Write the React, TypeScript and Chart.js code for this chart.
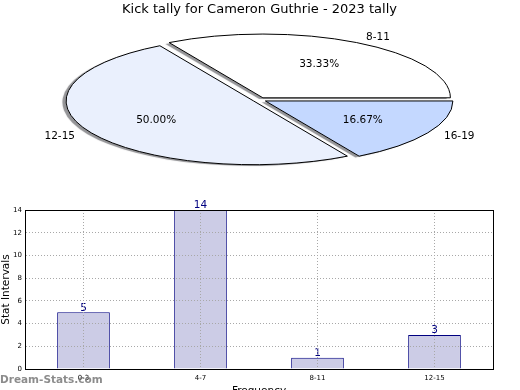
import React, { useEffect, useRef } from 'react';
import { Chart, registerables } from 'chart.js';

Chart.register(...registerables);

// ---------- data ----------
const pieTitle = 'Kick tally for Cameron Guthrie - 2023 tally';
const pieLabels = ['16-19', '12-15', '8-11'];
const pieValues = [1, 3, 2];
const pieColors = ['#c4d8ff', '#eaf0fd', '#ffffff'];
const pieExplode = [6.8, 6.8, 6.8];

const barLabels = ['0-3', '4-7', '8-11', '12-15'];
const barValues = [5, 14, 1, 3];
const yMin = 0;
const yMax = 14;
const yStep = 2;
const xTitle = 'Frequency';
const yTitle = 'Stat Intervals';
const watermark = 'Dream-Stats.com';

const FONT = "'DejaVu Sans', sans-serif";
const SQUASH = 0.34;
const GRID_COLOR = '#a8a8a8';

function drawArcs(chart: any, shadowPass: boolean) {
  const ctx = chart.ctx;
  const meta = chart.getDatasetMeta(0);
  const el = meta.data[0];
  if (!el) return;
  ctx.save();
  const base = ctx.getTransform();
  ctx.translate(el.x, el.y);
  ctx.scale(1, SQUASH);
  ctx.translate(-el.x, -el.y);
  if (shadowPass) {
    ctx.shadowColor = 'rgba(60,60,65,0.55)';
    ctx.shadowOffsetX = -3.75;
    ctx.shadowOffsetY = 1.3;
    ctx.shadowBlur = 0.8;
    (ctx as any).stroke = function () {};
  } else {
    const orig = CanvasRenderingContext2D.prototype.stroke;
    (ctx as any).stroke = function (...a: any[]) {
      this.save();
      this.setTransform(base);
      orig.apply(this, a as any);
      this.restore();
    };
  }
  meta.data.forEach((arc: any, i: number) => {
    const mid = (arc.startAngle + arc.endAngle) / 2;
    const e = pieExplode[i] || 0;
    ctx.save();
    ctx.translate(Math.cos(mid) * e, Math.sin(mid) * e);
    arc.draw(ctx, chart.chartArea);
    ctx.restore();
  });
  delete (ctx as any).stroke;
  ctx.restore();
}

const ellipsePlugin = {
  id: 'ellipsePie',
  beforeDatasetDraw(chart: any) {
    drawArcs(chart, true);
    drawArcs(chart, false);
    return false;
  },
  afterDraw(chart: any) {
    const ctx = chart.ctx;
    const meta = chart.getDatasetMeta(0);
    const vals = chart.data.datasets[0].data as number[];
    const total = vals.reduce((a, b) => a + b, 0);
    ctx.save();
    ctx.fillStyle = '#000';
    ctx.font = `10.5px ${FONT}`;
    ctx.textBaseline = 'middle';
    meta.data.forEach((arc: any, i: number) => {
      const mid = (arc.startAngle + arc.endAngle) / 2;
      const off = pieExplode[i] || 0;
      const c = Math.cos(mid);
      const s = Math.sin(mid);
      const R = arc.outerRadius;
      const lx = arc.x + c * (off + R * 1.1);
      const ly = arc.y + SQUASH * s * (off + R * 1.1);
      ctx.textAlign = c > 0 ? 'left' : 'right';
      ctx.fillText(chart.data.labels[i], lx, ly);
      const px = arc.x + c * (off + R * 0.6);
      const py = arc.y + SQUASH * s * (off + R * 0.6);
      ctx.textAlign = 'center';
      ctx.fillText(((vals[i] / total) * 100).toFixed(2) + '%', px, py);
    });
    ctx.restore();
  },
};

const barPlugin = {
  id: 'barExtras',
  afterDatasetsDraw(chart: any) {
    const ctx = chart.ctx;
    const meta = chart.getDatasetMeta(0);
    const vals = chart.data.datasets[0].data as number[];
    ctx.save();
    ctx.fillStyle = '#000080';
    ctx.font = `10.5px ${FONT}`;
    ctx.textAlign = 'center';
    ctx.textBaseline = 'bottom';
    meta.data.forEach((bar: any, i: number) => {
      ctx.fillText(String(vals[i]), bar.x, bar.y + 1);
    });
    ctx.restore();
  },
  afterDraw(chart: any) {
    const ctx = chart.ctx;
    const a = chart.chartArea;
    ctx.save();
    ctx.strokeStyle = '#000';
    ctx.lineWidth = 1;
    ctx.strokeRect(Math.round(a.left) + 0.5, Math.round(a.top) + 0.5, Math.round(a.right - a.left), Math.round(a.bottom - a.top));
    ctx.fillStyle = 'rgba(120,120,120,0.85)';
    ctx.font = `bold 10.5px ${FONT}`;
    ctx.textAlign = 'left';
    ctx.textBaseline = 'middle';
    ctx.fillText(watermark, 0, chart.height - 20);
    ctx.restore();
  },
};

export default function App() {
  const pieRef = useRef<HTMLCanvasElement>(null);
  const barRef = useRef<HTMLCanvasElement>(null);

  useEffect(() => {
    Chart.defaults.font.family = FONT;
    const pie = new Chart(pieRef.current as HTMLCanvasElement, {
      type: 'pie',
      data: {
        labels: pieLabels,
        datasets: [
          {
            data: pieValues,
            backgroundColor: pieColors,
            borderColor: '#000',
            borderWidth: 1,
          } as any,
        ],
      },
      options: {
        responsive: false,
        animation: false,
        events: [],
        rotation: 90,
        radius: 187.5,
        layout: { padding: { bottom: 23, right: 1 } },
        plugins: {
          legend: { display: false },
          tooltip: { enabled: false },
          title: {
            display: true,
            text: pieTitle,
            color: '#000',
            font: { family: FONT, size: 13, weight: 'normal' },
            padding: { top: 2, bottom: 10 },
          },
        },
      } as any,
      plugins: [ellipsePlugin],
    });

    const bar = new Chart(barRef.current as HTMLCanvasElement, {
      type: 'bar',
      data: {
        labels: barLabels,
        datasets: [
          {
            data: barValues,
            backgroundColor: '#ccccE6',
            borderColor: '#000080',
            borderWidth: 1,
            barPercentage: 0.45,
            categoryPercentage: 1,
          },
        ],
      },
      options: {
        responsive: false,
        animation: false,
        events: [],
        layout: { padding: { top: 15, right: 27, left: 0, bottom: 0 } },
        plugins: { legend: { display: false }, tooltip: { enabled: false } },
        scales: {
          x: {
            type: 'category',
            offset: true,
            grid: { display: true, drawOnChartArea: true, color: GRID_COLOR, drawTicks: false, offset: false, z: 1 },
            border: { display: true, color: '#000', width: 1, dash: [1, 2], z: 2 },
            ticks: { color: '#000', font: { family: FONT, size: 7 }, padding: 5, maxRotation: 0 },
            title: {
              display: true,
              text: xTitle,
              color: '#000',
              font: { family: FONT, size: 10.5 },
              padding: { top: 0, bottom: 2 },
            },
            afterFit: (s: any) => {
              s.height = 31;
            },
          },
          y: {
            min: yMin,
            max: yMax,
            grid: { color: GRID_COLOR, drawTicks: false, z: 1 },
            border: { display: true, color: '#000', width: 1, dash: [1, 2], z: 2 },
            ticks: { stepSize: yStep, color: '#000', font: { family: FONT, size: 7 }, padding: 3 },
            title: {
              display: true,
              text: yTitle,
              color: '#000',
              font: { family: FONT, size: 10.5 },
              padding: { top: 0, bottom: 0 },
            },
            afterFit: (s: any) => {
              s.width = 25;
            },
          },
        },
      } as any,
      plugins: [barPlugin],
    });

    return () => {
      pie.destroy();
      bar.destroy();
    };
  }, []);

  return (
    <div style={{ position: 'absolute', left: 0, top: 0, width: 520, height: 390, overflow: 'hidden', background: '#fff' }}>
      <canvas ref={pieRef} width={520} height={195} style={{ position: 'absolute', left: 0, top: 0 }} />
      <canvas ref={barRef} width={520} height={205} style={{ position: 'absolute', left: 0, top: 195 }} />
    </div>
  );
}
